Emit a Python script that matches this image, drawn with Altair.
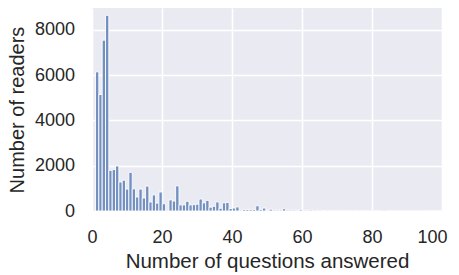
import altair as alt
import pandas as pd

# number of questions answered (1..100) and number of readers for each
questions = list(range(1, 101))
readers = [
    6150, 5150, 7550, 8650, 1800, 1830, 1990, 1280, 1360, 970,
    1710, 980, 620, 970, 575, 1100, 400, 710, 350, 840,
    320, 490, 440, 1110, 270, 270, 430, 270, 280, 300,
    530, 360, 470, 170, 210, 400, 120, 360, 380, 110,
    130, 180, 70, 70, 70, 70, 230, 70, 130, 30,
    80, 40, 40, 40, 100, 40, 40, 40, 30, 50,
    30, 30, 40, 30, 30, 20, 30, 30, 20, 25,
    20, 20, 15, 15, 25, 15, 15, 15, 12, 12,
    12, 10, 10, 10, 10, 8, 8, 8, 8, 8,
    6, 6, 6, 6, 5, 5, 5, 5, 5, 5,
]

df = pd.DataFrame({"questions": questions, "readers": readers})

FONT = "Liberation Sans"
TXT = "#262626"

chart = (
    alt.Chart(df)
    .transform_bin(
        ["bin_start", "bin_end"], "questions",
        bin=alt.Bin(step=0.954, anchor=1, extent=[1, 101], nice=False),
    )
    .transform_aggregate(readers="sum(readers)", groupby=["bin_start", "bin_end"])
    .mark_bar(color="#7390C0", stroke="white", strokeWidth=0.9, clip=True)
    .encode(
        x=alt.X(
            "bin_start:Q",
            scale=alt.Scale(domain=[0, 100], nice=False, zero=False),
            axis=alt.Axis(
                values=[0, 20, 40, 60, 80, 100], format="d",
                title="Number of questions answered",
                titleY=56.5, titleBaseline="alphabetic",
                labelFlush=True, labelFlushOffset=5,
            ),
        ),
        x2="bin_end:Q",
        y=alt.Y(
            "readers:Q",
            scale=alt.Scale(domain=[0, 8972], nice=False),
            axis=alt.Axis(
                values=[0, 2000, 4000, 6000, 8000], format="d",
                title="Number of readers",
                titleX=-69, titleY=101.5, titleBaseline="alphabetic",
                titleAngle=270, titleAlign="center", titleFontSize=20,
            ),
        ),
        y2=alt.datum(0),
    )
    .properties(
        width=350, height=203,
        autosize=alt.AutoSizeParams(type="none"),
        padding={"left": 84, "top": 0, "right": 9, "bottom": 64},
        background="white",
    )
    .configure_view(fill="#EAEAF2", stroke=None)
    .configure_axis(
        domain=False, ticks=False, tickSize=0,
        grid=True, gridColor="white", gridWidth=1.6,
        labelFont=FONT, labelFontSize=18, labelColor=TXT, labelPadding=17.5,
        titleFont=FONT, titleFontSize=20.5, titleColor=TXT, titleFontWeight="normal",
        labelOverlap=False,
    )
)

chart.save("out.html", embed_options={"renderer": "svg", "actions": False})
